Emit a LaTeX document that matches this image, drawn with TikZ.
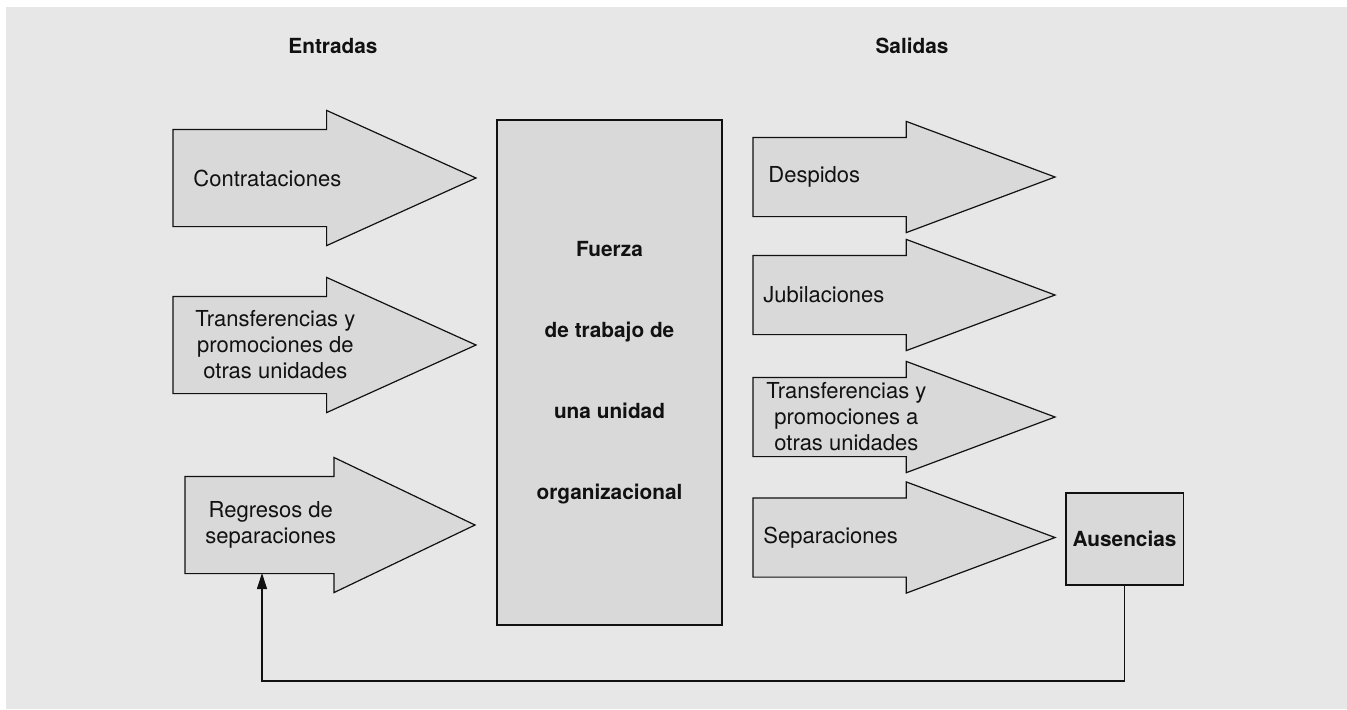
\documentclass[tikz,border=0pt]{standalone}
\usepackage{fontspec}
\setmainfont{TeX Gyre Heros}
\usepackage{tikz}
\usetikzlibrary{arrows.meta,positioning,calc,shapes.arrows}
\definecolor{Ink}{HTML}{111111}
\definecolor{Panel}{HTML}{E7E7E7}
\definecolor{Shade}{HTML}{D9D9D9}
\tikzset{
  bigin/.style={single arrow,draw=Ink,fill=Shade,line width=0.6pt,inner xsep=0pt,inner ysep=24pt,outer sep=0pt,minimum height=151.5pt,single arrow head extend=9.5pt,single arrow tip angle=48.7,anchor=tail},
  bigout/.style={single arrow,draw=Ink,fill=Shade,line width=0.6pt,inner xsep=0pt,inner ysep=19.5pt,outer sep=0pt,minimum height=151pt,single arrow head extend=8pt,single arrow tip angle=41,anchor=tail},
  txt/.style={inner sep=0pt,anchor=west,align=center,text=Ink,font=\fontsize{11}{13}\selectfont},
  head/.style={inner sep=0pt,text=Ink,font=\fontsize{10.4}{12}\selectfont\bfseries},
  unitbox/.style={draw=Ink,fill=Shade,line width=0.6pt,outer sep=0pt,minimum width=112.5pt,minimum height=252.5pt,align=center,text=Ink,font=\fontsize{10.4}{40.5}\selectfont\bfseries},
  absbox/.style={draw=Ink,fill=Shade,line width=0.6pt,outer sep=0pt,minimum width=58.5pt,minimum height=46pt,text=Ink,font=\fontsize{10.4}{12}\selectfont\bfseries},
  back/.style={-{Triangle[length=8pt,width=5pt]},line width=0.6pt,draw=Ink}
}
\begin{document}
\begin{tikzpicture}[x=0.5pt,y=-0.5pt]
\useasboundingbox (0,0) rectangle (1347,709);
\fill[Panel] (6,7) rectangle (1347,709);
% column titles
\node[head] (tin) at (333,46) {Entradas};
\node[head] (tout) at (912,46) {Salidas};
% inputs
\node[bigin] (in1) at (173,178) {};
\node[bigin] (in2) at (173,345) {};
\node[bigin,minimum height=145pt,single arrow tip angle=51.2] (in3) at (185,525) {};
\node[txt] (l1) at ($(in1.tail)+(20,0)$) {Contrataciones};
\node[txt] (l2) at ($(in2.tail)+(22,0)$) {Transferencias y\\promociones de\\otras unidades};
\node[txt] (l3) at ($(in3.tail)+(20,0)$) {Regresos de\\separaciones};
% unit
\node[unitbox] (unit) at (609.5,372.5) {Fuerza\\de trabajo de\\una unidad\\organizacional};
% outputs
\node[bigout] (out1) at (753,177) {};
\node[bigout] (out2) at (753,295) {};
\node[bigout] (out3) at (753,417) {};
\node[bigout] (out4) at (753,537.5) {};
\node[txt] (r1) at ($(out1.tail)+(15,0)$) {Despidos};
\node[txt] (r2) at ($(out2.tail)+(10,0)$) {Jubilaciones};
\node[txt] (r3) at ($(out3.tail)+(13,0)$) {Transferencias y\\promociones a\\otras unidades};
\node[txt] (r4) at ($(out4.tail)+(10,0)$) {Separaciones};
\node[absbox] (aus) at (1124.5,539) {Ausencias};
% loop back
\coordinate (ret) at (262,573);
\draw[back] (aus.south) -- ++(0,96) -| (ret);
\end{tikzpicture}
\end{document}
